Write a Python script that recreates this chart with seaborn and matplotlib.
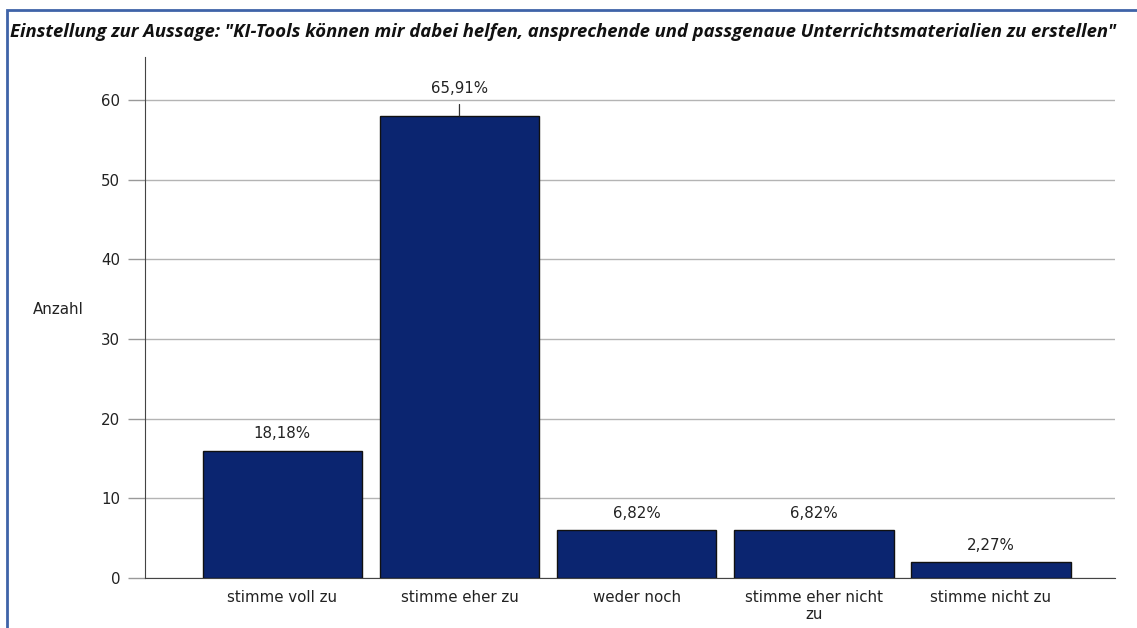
import matplotlib
matplotlib.use("Agg")
import matplotlib.pyplot as plt
import matplotlib.patches as mpatches
import seaborn as sns
import pandas as pd

# Data
categories = ["stimme voll zu", "stimme eher zu", "weder noch",
              "stimme eher nicht\nzu", "stimme nicht zu"]
counts = [16, 58, 6, 6, 2]
percent_labels = ["18,18%", "65,91%", "6,82%", "6,82%", "2,27%"]
yticks = [0, 10, 20, 30, 40, 50, 60]

title = ('Einstellung zur Aussage: "KI-Tools können mir dabei helfen, '
         'ansprechende und passgenaue Unterrichtsmaterialien zu erstellen"')

sns.set_style("white")
plt.rcParams['font.family'] = ['DejaVu Sans']

df = pd.DataFrame({"Antwort": categories, "Anzahl": counts})

fig = plt.figure(figsize=(11.37, 6.28), dpi=100)
ax = fig.add_axes([145 / 1137, 1 - 578 / 628, (1115 - 145) / 1137, (578 - 57) / 628])

sns.barplot(data=df, x="Antwort", y="Anzahl", color="#0b2570", width=0.9,
            edgecolor="#111111", linewidth=1.0, saturation=1, ax=ax, zorder=3)

ax.set_xlim(-0.775, 4.70)
ax.set_ylim(0, 65.4)
ax.set_yticks(yticks)
ax.yaxis.grid(True, color="#b4b4b4", linewidth=1.0, zorder=0)
ax.set_axisbelow(True)

for side in ["top", "right"]:
    ax.spines[side].set_visible(False)
ax.spines["left"].set_color("#444444")
ax.spines["bottom"].set_color("#444444")

fs = 10.8
ax.tick_params(axis="y", length=12, width=1, color="#999999", labelsize=fs,
               labelcolor="#222222", pad=6, left=True)
ax.tick_params(axis="x", length=0, labelsize=fs, labelcolor="#222222", pad=9)
for lbl in ax.get_xticklabels():
    lbl.set_linespacing(1.15)
ax.set_xlabel("")
ax.set_ylabel("")

# Value labels; the highest bar gets a leader line
top = max(counts)
for i, (c, txt) in enumerate(zip(counts, percent_labels)):
    if c == top:
        ax.annotate(txt, xy=(i, c), xytext=(0, 20), textcoords="offset points",
                    ha="center", va="center", fontsize=fs, color="#222222",
                    arrowprops=dict(arrowstyle="-", color="#333333", lw=0.9,
                                    shrinkA=4, shrinkB=0))
    else:
        ax.annotate(txt, xy=(i, c), xytext=(0, 12), textcoords="offset points",
                    ha="center", va="center", fontsize=fs, color="#222222")

fig.text(33 / 1137, 1 - 310 / 628, "Anzahl", fontsize=fs, color="#222222",
         ha="left", va="center")
fig.text(10 / 1137, 1 - 32 / 628, title, fontsize=13.3, fontweight="bold",
         fontstyle="italic", color="#111111", ha="left", va="center",
         family=["Open Sans", "DejaVu Sans"])

# blue frame around the chart (cut off at right and bottom)
frame = mpatches.Rectangle((7 / 1137, -0.05), 1.2, 1 - 10 / 628 + 0.05,
                           transform=fig.transFigure, fill=False,
                           edgecolor="#3f63a8", linewidth=2.0, clip_on=False)
fig.patches.append(frame)

fig.savefig("out.png", dpi=100, facecolor="white")
